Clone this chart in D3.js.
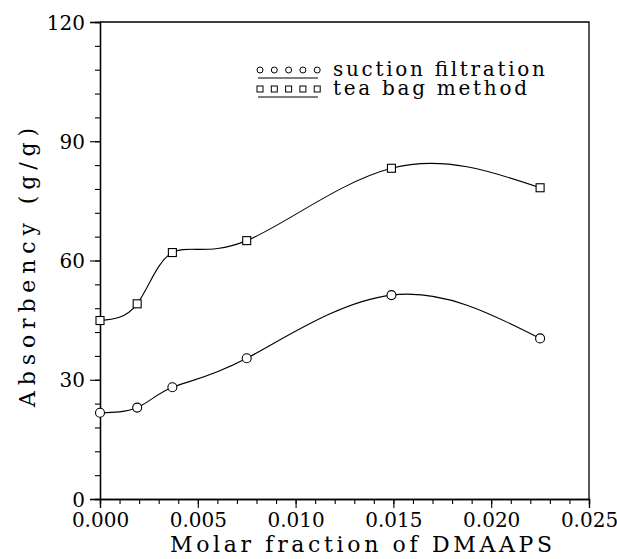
<!DOCTYPE html>
<html>
<head>
<meta charset="utf-8">
<script src="https://cdn.jsdelivr.net/npm/d3@7"></script>
<style>
  html, body { margin: 0; padding: 0; background: #fff; }
  svg { display: block; }
  svg text { font-family: "DejaVu Serif", serif; fill: #000; }
</style>
</head>
<body>
<svg id="chart" width="617" height="559"></svg>
<script>
// Molar fraction of DMAAPS in the copolymer
const molarFraction = [0.0000, 0.0019, 0.0037, 0.0075, 0.0149, 0.0225];
// Water absorbency (g/g) measured two ways
const suctionFiltration = [21.7, 23.0, 28.1, 35.4, 51.3, 40.4];
const teaBagMethod = [44.9, 49.1, 62.0, 65.0, 83.2, 78.3];

const xTicks = [0.000, 0.005, 0.010, 0.015, 0.020, 0.025];
const yTicks = [0, 30, 60, 90, 120];
const seriesNames = ["suction filtration", "tea bag method"];

const FONT = '"DejaVu Serif", serif';

const svg = d3.select("#chart");
const margin = { left: 100, right: 28, top: 22, bottom: 60 };
const W = 617, H = 559;

const x = d3.scaleLinear().domain([0, 0.025]).range([margin.left, W - margin.right]);
const y = d3.scaleLinear().domain([0, 120]).range([H - margin.bottom, margin.top]);

// Frame: top and right edges
svg.append("path")
  .attr("d", `M${x(0)},${y(120)}H${x(0.025)}V${y(0)}`)
  .attr("fill", "none").attr("stroke", "#000").attr("stroke-width", 1.3);

// Minor ticks
const xMinor = d3.range(0, 26).map(i => i * 0.001);
const yMinor = d3.range(0, 21).map(i => i * 6);

const xAxis = svg.append("g").attr("transform", `translate(0,${y(0)})`)
  .call(d3.axisBottom(x).tickValues(xMinor).tickSize(5).tickFormat(""));
const xMajor = svg.append("g").attr("transform", `translate(0,${y(0)})`)
  .call(d3.axisBottom(x).tickValues(xTicks).tickSize(9).tickPadding(5).tickFormat(d3.format(".3f")));
const yAxis = svg.append("g").attr("transform", `translate(${x(0)},0)`)
  .call(d3.axisLeft(y).tickValues(yMinor).tickSize(5).tickFormat(""));
const yMajor = svg.append("g").attr("transform", `translate(${x(0)},0)`)
  .call(d3.axisLeft(y).tickValues(yTicks).tickSize(10).tickPadding(5).tickFormat(d3.format("d")));

[xAxis, xMajor, yAxis, yMajor].forEach(g => {
  g.attr("font-family", null).attr("font-size", null);
  g.selectAll("path.domain").attr("stroke", "#000").attr("stroke-width", 1.3);
  g.selectAll(".tick line").attr("stroke", "#000").attr("stroke-width", 1.1);
});
[xMajor, yMajor].forEach(g => g.selectAll(".tick text")
  .style("font-family", FONT).style("font-size", "20px").attr("fill", "#000"));
yMajor.selectAll(".tick text").attr("dy", "0.36em");

// Axis titles
svg.append("text")
  .attr("x", 170).attr("y", 552)
  .attr("textLength", 382).attr("lengthAdjust", "spacing")
  .style("font-family", FONT).style("font-size", "22px")
  .text("Molar fraction of DMAAPS");

svg.append("text")
  .attr("transform", "translate(35,407) rotate(-90)")
  .attr("textLength", 279).attr("lengthAdjust", "spacing")
  .style("font-family", FONT).style("font-size", "22px")
  .text("Absorbency (g/g)");

// Curves and markers
const line = d3.line().curve(d3.curveNatural).x(d => x(d[0])).y(d => y(d[1]));
const sData = molarFraction.map((m, i) => [m, suctionFiltration[i]]);
const tData = molarFraction.map((m, i) => [m, teaBagMethod[i]]);

[sData, tData].forEach(data => {
  svg.append("path").datum(data).attr("d", line)
    .attr("fill", "none").attr("stroke", "#000").attr("stroke-width", 1.1);
});

svg.append("g").selectAll("circle").data(sData).join("circle")
  .attr("cx", d => x(d[0])).attr("cy", d => y(d[1])).attr("r", 4.5)
  .attr("fill", "#fff").attr("stroke", "#000").attr("stroke-width", 1.1);

const sq = 8;
svg.append("g").selectAll("rect").data(tData).join("rect")
  .attr("x", d => x(d[0]) - sq / 2).attr("y", d => y(d[1]) - sq / 2)
  .attr("width", sq).attr("height", sq)
  .attr("fill", "#fff").attr("stroke", "#000").attr("stroke-width", 1.1);

// Legend
const legend = svg.append("g");
const legX = d3.range(5).map(i => 260 + i * 14.3);
const rows = [
  { name: seriesNames[0], my: 70, ly: 78, ty: 76, w: 212, shape: "circle" },
  { name: seriesNames[1], my: 89, ly: 97, ty: 95, w: 194, shape: "rect" }
];
rows.forEach(r => {
  legX.forEach(mx => {
    if (r.shape === "circle") {
      legend.append("circle").attr("cx", mx).attr("cy", r.my).attr("r", 3)
        .attr("fill", "none").attr("stroke", "#000").attr("stroke-width", 1);
    } else {
      legend.append("rect").attr("x", mx - 3).attr("y", r.my - 3).attr("width", 6).attr("height", 6)
        .attr("fill", "none").attr("stroke", "#000").attr("stroke-width", 1);
    }
  });
  legend.append("line").attr("x1", 258).attr("x2", 318).attr("y1", r.ly).attr("y2", r.ly)
    .attr("stroke", "#000").attr("stroke-width", 1.2);
  legend.append("text").attr("x", 333).attr("y", r.ty)
    .attr("textLength", r.w).attr("lengthAdjust", "spacing")
    .style("font-family", FONT).style("font-size", "20px").text(r.name);
});
</script>
</body>
</html>
